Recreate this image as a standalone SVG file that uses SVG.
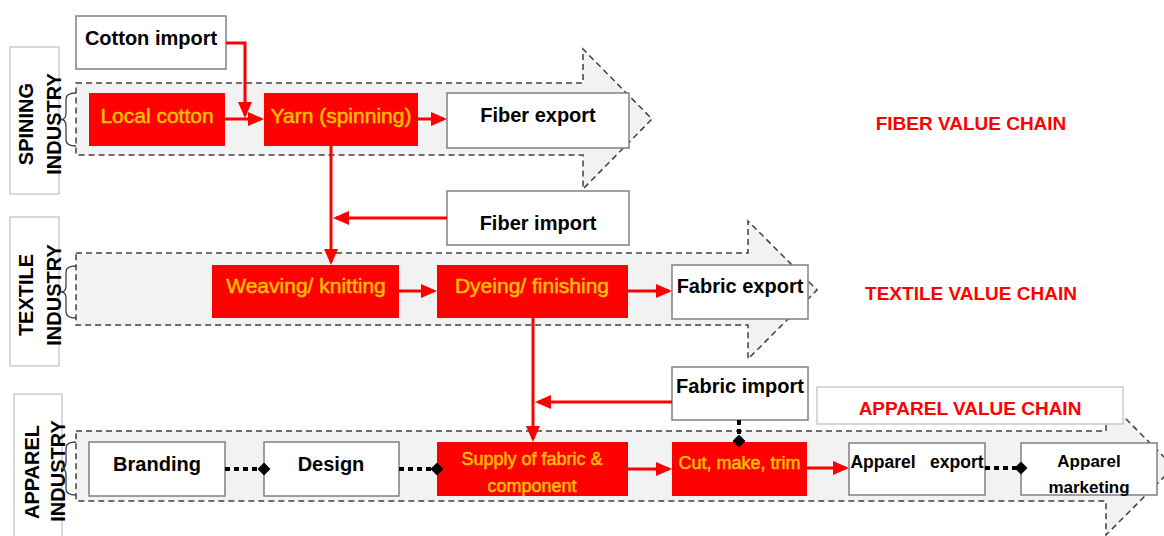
<svg xmlns="http://www.w3.org/2000/svg" width="1164" height="536" viewBox="0 0 1164 536">
<defs>
<marker id="arr" markerUnits="userSpaceOnUse" markerWidth="16" markerHeight="14" refX="13" refY="7" orient="auto"><path d="M0,0 L16,7 L0,14 z" fill="#FF0000"/></marker>
<marker id="dia" markerUnits="userSpaceOnUse" markerWidth="13" markerHeight="13" refX="6.5" refY="6.5" orient="auto"><path d="M0,6.5 L6.5,0 L13,6.5 L6.5,13 z" fill="#000"/></marker>
</defs>
<style>
.band{fill:#F2F2F2;stroke:#404040;stroke-width:1.5;stroke-dasharray:6 4}
.lbl{fill:#fff;stroke:#BFBFBF;stroke-width:1.2}
.brace{fill:none;stroke:#404040;stroke-width:1.3}
.wbox{fill:#fff;stroke:#808080;stroke-width:1.5}
.rbox{fill:#FF0000}
text{font-family:"Liberation Sans",Arial,sans-serif}
.k{font-weight:bold;font-size:20px;fill:#000;text-anchor:middle}
.y{fill:#FFC000;stroke:#FFC000;stroke-width:0.5;font-size:21px;text-anchor:middle}
.side{font-weight:bold;font-size:20px;fill:#000;text-anchor:middle}
.vc{font-weight:bold;font-size:19px;fill:#FF0000;text-anchor:middle}
.red{fill:none;stroke:#FF0000;stroke-width:3;marker-end:url(#arr)}
.dot{fill:none;stroke:#000;stroke-width:4;stroke-dasharray:5 4;marker-end:url(#dia)}
</style>

<g id="bands">
<path class="band" d="M76,83 H583 V49 L652,119 L583,189 V155 H76 Z"/>
<path class="band" d="M76,253 H748 V221 L817,290 L748,359 V325 H76 Z"/>
<path class="band" d="M76,431 H1106 V399 L1174,467 L1106,535 V501 H76 Z"/>
</g>

<g id="spinning-industry">
<rect class="lbl" x="10" y="47" width="49" height="147"/>
<text class="side" transform="translate(33,124) rotate(-90)">SPINING</text>
<text class="side" transform="translate(61,124) rotate(-90)">INDUSTRY</text>
<path class="brace" d="M76,93 Q66,93 66,99 V113 Q66,119.5 61,119.5 Q66,119.5 66,126 V140 Q66,146 76,146"/>
</g>
<g id="textile-industry">
<rect class="lbl" x="10" y="217" width="49" height="149"/>
<text class="side" transform="translate(33,295) rotate(-90)">TEXTILE</text>
<text class="side" transform="translate(61,295) rotate(-90)">INDUSTRY</text>
<path class="brace" d="M76,266 Q66,266 66,272 V286 Q66,292 61,292 Q66,292 66,298 V312 Q66,318 76,318"/>
</g>
<g id="apparel-industry">
<rect class="lbl" x="14" y="394" width="48" height="150"/>
<text class="side" transform="translate(39,472) rotate(-90)">APPAREL</text>
<text class="side" transform="translate(65,471) rotate(-90)">INDUSTRY</text>
<path class="brace" d="M76,442 Q66,442 66,448 V462 Q66,468.5 61,468.5 Q66,468.5 66,475 V489 Q66,495 76,495"/>
</g>

<g id="cotton-import"><rect class="wbox" x="76" y="16" width="150" height="53"/><text class="k" x="151" y="45">Cotton import</text></g>
<g id="local-cotton"><rect class="rbox" x="89" y="93" width="136" height="53"/><text class="y" x="157" y="123">Local cotton</text></g>
<g id="yarn"><rect class="rbox" x="264" y="93" width="154" height="53"/><text class="y" x="341" y="123">Yarn (spinning)</text></g>
<g id="fiber-export"><rect class="wbox" x="447" y="93" width="182" height="55"/><text class="k" x="538" y="122">Fiber export</text></g>
<g id="fiber-import"><rect class="wbox" x="447" y="191" width="182" height="54"/><text class="k" x="538" y="230">Fiber import</text></g>
<g id="fiber-value-chain"><text class="vc" x="971" y="130">FIBER VALUE CHAIN</text></g>

<g id="weaving"><rect class="rbox" x="212" y="265" width="187" height="53"/><text class="y" x="306" y="293">Weaving/ knitting</text></g>
<g id="dyeing"><rect class="rbox" x="437" y="265" width="191" height="53"/><text class="y" x="532" y="293">Dyeing/ finishing</text></g>
<g id="fabric-export"><rect class="wbox" x="672" y="265" width="136" height="54"/><text class="k" x="740" y="293">Fabric export</text></g>
<g id="fabric-import"><rect class="wbox" x="672" y="367" width="136" height="53"/><text class="k" x="740" y="393">Fabric import</text></g>
<g id="textile-value-chain"><text class="vc" x="971" y="300">TEXTILE VALUE CHAIN</text></g>

<g id="apparel-value-chain"><rect class="lbl" x="817" y="387" width="306" height="37"/><text class="vc" x="970" y="415">APPAREL VALUE CHAIN</text></g>
<g id="branding"><rect class="wbox" x="89" y="442" width="136" height="54"/><text class="k" x="157" y="471">Branding</text></g>
<g id="design"><rect class="wbox" x="264" y="442" width="135" height="54"/><text class="k" x="331" y="471">Design</text></g>
<g id="supply"><rect class="rbox" x="437" y="442" width="191" height="54"/><text class="y" x="532" y="465" style="font-size:18px">Supply of fabric &amp;</text><text class="y" x="532" y="492" style="font-size:18px">component</text></g>
<g id="cut-make-trim"><rect class="rbox" x="672" y="442" width="135" height="54"/><text class="y" x="739.5" y="469" style="font-size:18px">Cut, make, trim</text></g>
<g id="apparel-export"><rect class="wbox" x="849" y="443" width="136" height="52"/><text class="k" x="917" y="468" style="font-size:17.5px" xml:space="preserve">Apparel   export</text></g>
<g id="apparel-marketing"><rect class="wbox" x="1021" y="443" width="136" height="52"/><text class="k" x="1089" y="467" style="font-size:17px">Apparel</text><text class="k" x="1089" y="493" style="font-size:17px">marketing</text></g>

<g id="connectors">
<path class="red" d="M226,43 H245 V115"/>
<path class="red" d="M225,119 H261"/>
<path class="red" d="M418,119 H444"/>
<path class="red" d="M331,146 V262"/>
<path class="red" d="M447,218 H336"/>
<path class="red" d="M399,291 H434"/>
<path class="red" d="M628,291 H669"/>
<path class="red" d="M533,318 V439"/>
<path class="red" d="M672,402 H538"/>
<path class="red" d="M628,469 H669"/>
<path class="red" d="M807,468 H846"/>
<path class="dot" d="M225,469 H264"/>
<path class="dot" d="M399,469 H437"/>
<path class="dot" d="M985,468 H1021"/>
<path class="dot" d="M739,420 V441"/>
</g>
</svg>
